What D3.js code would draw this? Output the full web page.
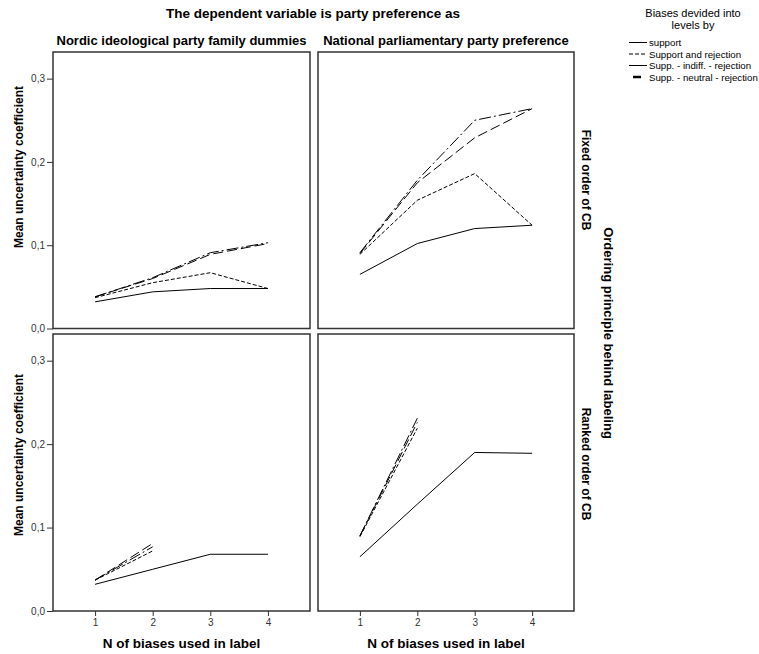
<!DOCTYPE html>
<html>
<head>
<meta charset="utf-8">
<script src="https://cdn.jsdelivr.net/npm/d3@7"></script>
<style>
  body { margin: 0; background: #fff; }
  svg { font-family: "Liberation Sans", Arial, sans-serif; }
</style>
</head>
<body>
<svg id="chart" width="759" height="654"></svg>
<script>
// x values and axis ticks
var nBiases = [1, 2, 3, 4];
var yTicks = [0, 0.1, 0.2, 0.3];

var columnTitles = ['Nordic ideological party family dummies', 'National parliamentary party preference'];
var rowTitles = ['Fixed order of CB', 'Ranked order of CB'];
var seriesNames = ['support', 'Support and rejection', 'Supp. - indiff. - rejection', 'Supp. - neutral - rejection'];

// Fixed order, Nordic party family
var fixedNordicSupport    = [0.032, 0.044, 0.048, 0.048];
var fixedNordicSuppRej    = [0.037, 0.055, 0.067, 0.048];
var fixedNordicIndiff     = [0.038, 0.060, 0.089, 0.102];
var fixedNordicNeutral    = [0.038, 0.061, 0.091, 0.103];

// Fixed order, national party preference
var fixedNationalSupport  = [0.065, 0.102, 0.120, 0.124];
var fixedNationalSuppRej  = [0.089, 0.154, 0.186, 0.124];
var fixedNationalIndiff   = [0.090, 0.175, 0.229, 0.264];
var fixedNationalNeutral  = [0.091, 0.178, 0.250, 0.264];

// Ranked order, Nordic party family
var rankedNordicSupport   = [0.032, 0.050, 0.068, 0.068];
var rankedNordicSuppRej   = [0.037, 0.072];
var rankedNordicIndiff    = [0.037, 0.081];
var rankedNordicNeutral   = [0.037, 0.077];

// Ranked order, national party preference
var rankedNationalSupport = [0.065, 0.128, 0.190, 0.189];
var rankedNationalSuppRej = [0.089, 0.219];
var rankedNationalIndiff  = [0.090, 0.226];
var rankedNationalNeutral = [0.090, 0.231];

var panelData = [
  [[fixedNordicSupport, fixedNordicSuppRej, fixedNordicIndiff, fixedNordicNeutral],
   [fixedNationalSupport, fixedNationalSuppRej, fixedNationalIndiff, fixedNationalNeutral]],
  [[rankedNordicSupport, rankedNordicSuppRej, rankedNordicIndiff, rankedNordicNeutral],
   [rankedNationalSupport, rankedNationalSuppRej, rankedNationalIndiff, rankedNationalNeutral]]
];

var dashes = [null, '4,2', '10,4', '12,3,2,3'];

var svg = d3.select('#chart');

var cols = [[53, 310], [318, 574]];		// panel x extents
var rows = [[52, 328.5], [334, 611]];		// panel y extents

var fmt = function (d) { return d3.format('.1f')(d).replace('.', ','); };

// main title + column titles
svg.append('text')
  .attr('x', 313).attr('y', 18)
  .attr('text-anchor', 'middle')
  .style('font-size', '13.5px').style('font-weight', 'bold')
  .text('The dependent variable is party preference as');

columnTitles.forEach(function (t, c) {
  svg.append('text')
    .attr('x', (cols[c][0] + cols[c][1]) / 2).attr('y', 45)
    .attr('text-anchor', 'middle')
    .style('font-size', '13px').style('font-weight', 'bold')
    .text(t);
});

rows.forEach(function (ry, r) {
  var y = d3.scaleLinear().domain([0, 0.332]).range([ry[1], ry[0]]);

  // left y axis on first column
  var yAxis = d3.axisLeft(y).tickValues(yTicks).tickFormat(fmt).tickSize(6).tickPadding(2);
  var ga = svg.append('g')
    .attr('transform', 'translate(' + cols[0][0] + ',0)')
    .call(yAxis);
  ga.select('.domain').remove();
  ga.selectAll('line').attr('stroke', '#333');
  ga.selectAll('text').style('font-size', '10px').style('font-family', '"Liberation Sans", Arial, sans-serif').attr('fill', '#333');

  svg.append('text')
    .attr('transform', 'translate(23,' + (r === 0 ? 167 : 455) + ') rotate(-90)')
    .attr('text-anchor', 'middle')
    .style('font-size', '12px').style('font-weight', 'bold')
    .text('Mean uncertainty coefficient');

  svg.append('text')
    .attr('transform', 'translate(582,' + (r === 0 ? 180 : 464) + ') rotate(90)')
    .attr('text-anchor', 'middle')
    .style('font-size', '12px').style('font-weight', 'bold')
    .text(rowTitles[r]);

  cols.forEach(function (cx, c) {
    var x = d3.scaleLinear().domain([0.27, 4.73]).range([cx[0], cx[1]]);
    var line = d3.line()
      .x(function (d, i) { return x(nBiases[i]); })
      .y(function (d) { return y(d); });

    var g = svg.append('g');

    g.selectAll('path.series')
      .data(panelData[r][c])
      .enter()
      .append('path')
      .attr('class', 'series')
      .attr('d', line)
      .attr('fill', 'none')
      .attr('stroke', '#000')
      .attr('stroke-width', 1)
      .attr('stroke-dasharray', function (d, i) { return dashes[i]; });

    g.append('rect')
      .attr('x', cx[0]).attr('y', ry[0])
      .attr('width', cx[1] - cx[0]).attr('height', ry[1] - ry[0])
      .attr('fill', 'none')
      .attr('stroke', '#333')
      .attr('stroke-width', 1.5);

    if (r === 1) {
      var xAxis = d3.axisBottom(x).tickValues(nBiases).tickFormat(d3.format('d')).tickSize(5).tickPadding(3);
      var gx = svg.append('g')
        .attr('transform', 'translate(0,' + ry[1] + ')')
        .call(xAxis);
      gx.select('.domain').remove();
      gx.selectAll('line').attr('stroke', '#333');
      gx.selectAll('text').style('font-size', '10px').style('font-family', '"Liberation Sans", Arial, sans-serif').attr('fill', '#333');

      svg.append('text')
        .attr('x', (cx[0] + cx[1]) / 2).attr('y', 648)
        .attr('text-anchor', 'middle')
        .style('font-size', '13.5px').style('font-weight', 'bold')
        .text('N of biases used in label');
    }
  });
});

svg.append('text')
  .attr('transform', 'translate(604,333) rotate(90)')
  .attr('text-anchor', 'middle')
  .style('font-size', '13px').style('font-weight', 'bold')
  .text('Ordering principle behind labeling');

// legend
var legend = svg.append('g');
legend.append('text')
  .attr('x', 693).attr('y', 17)
  .attr('text-anchor', 'middle')
  .style('font-size', '11px')
  .text('Biases devided into');
legend.append('text')
  .attr('x', 693).attr('y', 29)
  .attr('text-anchor', 'middle')
  .style('font-size', '11px')
  .text('levels by');

var legendRows = [42.5, 54, 65.5, 77];
var legendSwatch = [[629, 647, 1, null], [629, 647, 1, '4,2'], [629, 647, 1, null], [633, 641, 2.5, null]];

var items = legend.selectAll('g.item')
  .data(seriesNames)
  .enter()
  .append('g')
  .attr('class', 'item')
  .attr('transform', function (d, i) { return 'translate(0,' + legendRows[i] + ')'; });

items.append('line')
  .attr('x1', function (d, i) { return legendSwatch[i][0]; })
  .attr('x2', function (d, i) { return legendSwatch[i][1]; })
  .attr('stroke', '#000')
  .attr('stroke-width', function (d, i) { return legendSwatch[i][2]; })
  .attr('stroke-dasharray', function (d, i) { return legendSwatch[i][3]; });

items.append('text')
  .attr('x', 649).attr('y', 3.5)
  .style('font-size', '9.7px')
  .text(function (d) { return d; });
</script>
</body>
</html>
